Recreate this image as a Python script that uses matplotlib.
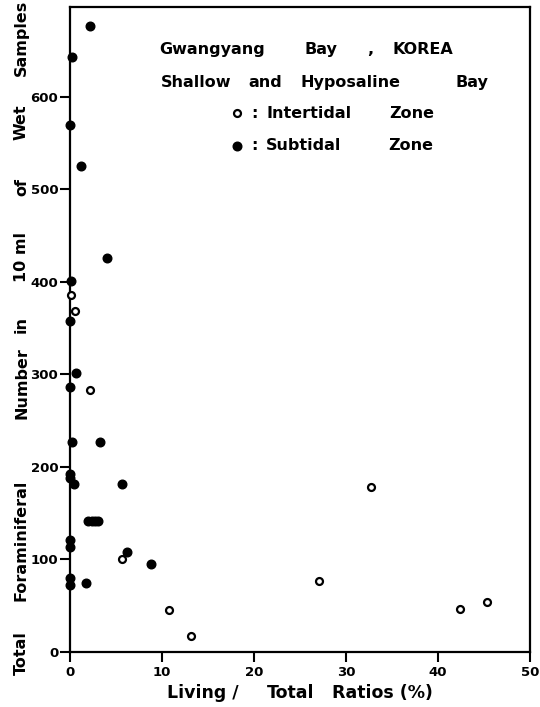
import matplotlib
matplotlib.use("Agg")
import matplotlib.pyplot as plt

# intertidal zone (open circles): living/total ratio (%), total number
inter_x = [0.1, 0.5, 2.2, 5.7, 10.8, 13.1, 32.7, 27.1, 42.4, 45.3]
inter_y = [386, 369, 283, 101, 45, 17, 178, 77, 47, 54]

# subtidal zone (filled circles)
sub_x = [2.2, 0.2, 0.0, 1.2, 4.0, 0.1, 0.0, 0.6, 0.0, 0.2, 3.3,
         0.0, 0.05, 0.4, 5.6, 2.0, 2.4, 2.7, 3.0, 0.0, 0.0, 6.2, 8.8,
         0.0, 0.0, 1.7]
sub_y = [676, 643, 569, 525, 426, 401, 358, 301, 286, 227, 227,
         192, 188, 182, 182, 142, 142, 142, 142, 121, 114, 108, 95,
         80, 72, 75]

xticks = [0, 10, 20, 30, 40, 50]
yticks = [0, 100, 200, 300, 400, 500, 600]

W, H = 540, 707
fig = plt.figure(figsize=(W / 100, H / 100), dpi=100)
ax = fig.add_axes([70 / W, 1 - 652 / H, 460 / W, 645 / H])


def px(x, y):
    # pixel position -> figure fraction (for text only)
    return x / W, 1 - y / H


ax.plot(sub_x, sub_y, "o", color="black", ms=6.2, clip_on=False, zorder=3)
ax.plot(inter_x, inter_y, "o", mfc="white", mec="black", mew=1.6, ms=5.0,
        clip_on=False, zorder=3)

ax.set_xlim(0, 50)
ax.set_ylim(0, 697)
ax.set_xticks(xticks)
ax.set_yticks(yticks)
ax.tick_params(direction="out", length=7, width=1.5, labelsize=9.5)
ax.tick_params(axis="y", pad=1.5)
ax.tick_params(axis="x", pad=3)
for lab in ax.get_xticklabels() + ax.get_yticklabels():
    lab.set_fontweight("bold")
for sp in ax.spines.values():
    sp.set_linewidth(1.6)

# axis labels, word by word as lettered on the original
for word, x in [("Living /", 203), ("Total", 291), ("Ratios (%)", 382)]:
    fig.text(*px(x, 698), word, ha="center", va="baseline",
             fontsize=12.5, fontweight="bold")
for word, y in [("Samples", 38), ("Wet", 122), ("of", 187), ("10 ml", 257),
                ("in", 324), ("Number", 383), ("Foraminiferal", 540),
                ("Total", 653)]:
    fig.text(*px(26, y), word, rotation=90, rotation_mode="anchor",
             ha="center", va="baseline", fontsize=11.5, fontweight="bold")

txt = dict(fontsize=11.5, fontweight="bold", ha="center", va="baseline")

# title block
for word, x in [("Gwangyang", 212), ("Bay", 321), (",", 370), ("KOREA", 423)]:
    fig.text(*px(x, 54), word, **txt)
for word, x in [("Shallow", 196), ("and", 265), ("Hyposaline", 350), ("Bay", 472)]:
    fig.text(*px(x, 87), word, **txt)

# legend
fig.lines.append(plt.Line2D([px(237, 0)[0]], [px(0, 113)[1]], marker="o", ls="",
                            mfc="white", mec="black", mew=1.6, ms=5.0,
                            transform=fig.transFigure))
fig.lines.append(plt.Line2D([px(237, 0)[0]], [px(0, 146)[1]], marker="o", ls="",
                            color="black", ms=6.2, transform=fig.transFigure))
for word, x in [(":", 254), ("Intertidal", 309), ("Zone", 412)]:
    fig.text(*px(x, 118), word, **txt)
for word, x in [(":", 254), ("Subtidal", 304), ("Zone", 411)]:
    fig.text(*px(x, 150), word, **txt)

fig.savefig("out.png", dpi=100)
